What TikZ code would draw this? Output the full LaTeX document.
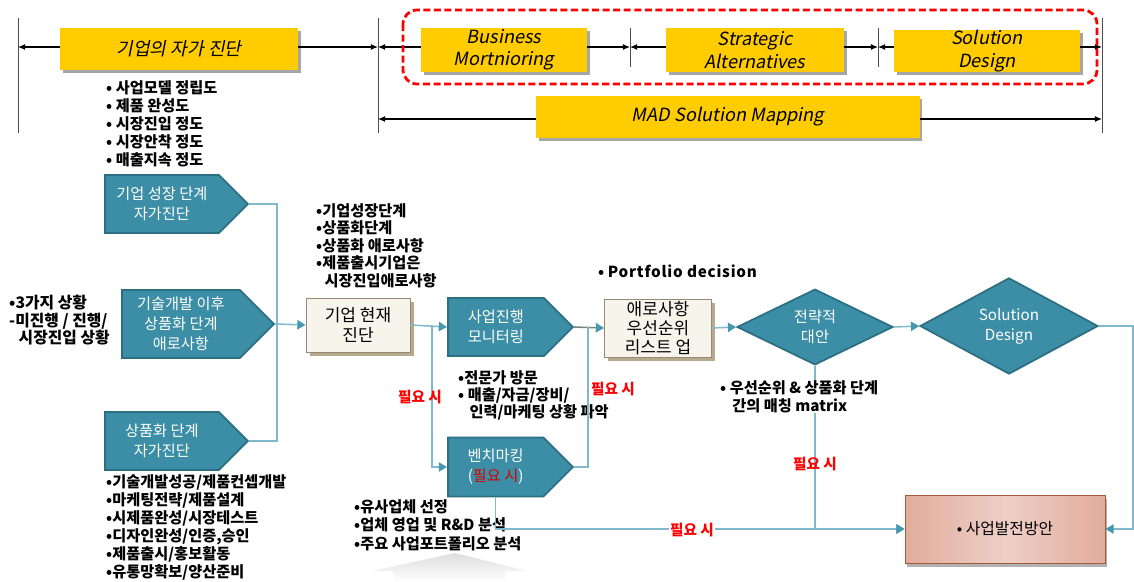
\documentclass[tikz,border=0pt]{standalone}
\usepackage{fontspec}
\setmainfont{Noto Sans CJK KR}[ItalicFont={Noto Sans CJK KR}, ItalicFeatures={FakeSlant=0.2}]
\usepackage{tikz}
\usetikzlibrary{shapes.geometric, shapes.symbols, arrows.meta, positioning, calc, shadows}
\definecolor{tealfill}{RGB}{59,142,165}
\definecolor{tealdark}{RGB}{44,111,130}
\definecolor{linkcol}{RGB}{127,185,202}
\definecolor{tipcol}{RGB}{70,152,175}
\definecolor{beigefill}{RGB}{247,244,236}
\definecolor{beigedraw}{RGB}{150,138,118}
\definecolor{beigeshad}{RGB}{183,169,140}
\definecolor{goldfill}{RGB}{255,204,0}
\definecolor{salmonedge}{RGB}{226,172,155}
\definecolor{salmonmid}{RGB}{237,207,199}
\definecolor{salmondraw}{RGB}{163,90,60}
\definecolor{needred}{RGB}{255,0,0}
\tikzset{
  gold/.style={rectangle, fill=goldfill, font=\itshape\fontsize{15.5}{19}\selectfont, align=center, inner sep=0pt,
    drop shadow={shadow xshift=2.5pt, shadow yshift=-2.5pt, fill=black, opacity=0.35}},
  dimline/.style={{Latex[length=6pt,width=5pt]}-{Latex[length=6pt,width=5pt]}, line width=0.9pt},
  tick/.style={line width=0.8pt, color=black!70},
  link/.style={line width=1.3pt, color=linkcol},
  linkarrow/.style={link, -{Triangle[length=7pt,width=8pt,color=tipcol]}},
  needtxt/.style={font=\bfseries\fontsize{12.5}{14}\selectfont, text=needred, inner sep=1pt},
  bullets/.style={align=left, anchor=north west, inner sep=0pt, font=\bfseries\fontsize{13}{15.4}\selectfont}
}
\begin{document}
\begin{tikzpicture}[x=0.03cm, y=-0.03cm,
  tealbox/.style={signal, signal to=east, fill=tealfill, draw=tealdark, line width=1.5pt, text=white,
    align=center, font=\fontsize{13}{17}\selectfont, inner sep=1pt, anchor=west},
  beigebox/.style={rectangle, fill=beigefill, draw=beigedraw, line width=0.8pt, align=center,
    font=\fontsize{14.5}{16.5}\selectfont, inner sep=0pt,
    drop shadow={shadow xshift=3pt, shadow yshift=-3pt, fill=beigeshad, opacity=1}},
  tealdia/.style={diamond, fill=tealfill, draw=tealdark, line width=1.5pt, text=white, align=center,
    font=\fontsize{13}{17}\selectfont, inner sep=0pt}
]
\useasboundingbox (0,0) rectangle (1134,582);

% top: time bars
\foreach \x in {18, 378, 1102} \draw[tick] (\x,18) -- (\x,133);
\foreach \x in {630, 878} \draw[tick] (\x,28) -- (\x,67);
\coordinate (s0) at (18,47);
\coordinate (s1) at (378,47);
\coordinate (s2) at (630,47);
\coordinate (s3) at (878,47);
\coordinate (s4) at (1102,47);
\coordinate (m0) at (378,119);
\coordinate (m1) at (1102,119);
\draw[dimline] (s0) -- (s1);
\draw[dimline] (s1) -- (s2);
\draw[dimline] (s2) -- (s3);
\draw[dimline] (s3) -- (s4);
\draw[dimline] (m0) -- (m1);

\node[gold, minimum width=7.14cm, minimum height=1.26cm] (self) at (179,49) {기업의 자가 진단};
\node[gold, minimum width=4.98cm, minimum height=1.32cm] (monitor) at (504,50) {Business\\Mortnioring};
\node[gold, minimum width=5.34cm, minimum height=1.32cm] (altern) at (755,50) {Strategic\\Alternatives};
\node[gold, minimum width=5.58cm, minimum height=1.28cm] (soldesign) at (987,51) {Solution\\Design};
\node[gold, minimum width=11.49cm, minimum height=1.26cm] (mad) at (728,117) {MAD Solution Mapping};
\draw[needred, line width=2.4pt, dash pattern=on 6pt off 3pt, rounded corners=12pt] (403,10) rectangle (1097,84);

\node[bullets] (selflist) at (106,80) {• 사업모델 정립도\\• 제품 완성도\\• 시장진입 정도\\• 시장안착 정도\\• 매출지속 정도};

% left: self diagnosis
\node[tealbox, minimum width=4.29cm, minimum height=1.74cm] (growth) at (104,204) {기업 성장 단계\\자가진단};
\node[tealbox, minimum width=4.56cm, minimum height=2.04cm] (hurdle) at (121,324) {기술개발 이후\\상품화 단계\\애로사항};
\node[tealbox, minimum width=4.29cm, minimum height=1.74cm] (commerce) at (104,441) {상품화 단계\\자가진단};
\node[bullets, font=\bfseries\fontsize{13.5}{15}\selectfont] (situation) at (9,295) {•3가지 상황\\-미진행 / 진행/\\\hspace{0.6em}시장진입 상황};
\node[bullets] (commlist) at (106,474) {•기술개발성공/제품컨셉개발\\•마케팅전략/제품설계\\•시제품완성/시장테스트\\•디자인완성/인증,승인\\•제품출시/홍보활동\\•유통망확보/양산준비};

% middle
\node[beigebox, minimum width=3.12cm, minimum height=1.62cm] (current) at (358,325) {기업 현재\\진단};
\node[bullets, font=\bfseries\fontsize{13}{15}\selectfont] (curlist) at (316,203) {•기업성장단계\\•상품화단계\\•상품화 애로사항\\•제품출시기업은\\\hspace{0.55em}시장진입애로사항};
\node[tealbox, minimum width=3.75cm, minimum height=1.74cm] (progress) at (447,327) {사업진행\\모니터링};
\node[bullets, font=\bfseries\fontsize{13}{14.8}\selectfont] (proglist) at (458,370) {•전문가 방문\\• 매출/자금/장비/\\\hspace{0.75em}인력/마케팅 상황 파악};
\node[tealbox, minimum width=3.75cm, minimum height=1.77cm] (bench) at (447,467) {벤치마킹\\(\textcolor{needred!85!black}{필요 시})};
\node[bullets, font=\bfseries\fontsize{13}{15.8}\selectfont] (benchlist) at (354,499) {•유사업체 선정\\•업체 영업 및 R\&D 분석\\•주요 사업포트폴리오 분석};
\shade[top color=black!13, bottom color=white] (372,571) -- (455,553) -- (527,571) -- (505,571) -- (505,582) -- (393,582) -- (393,571) -- cycle;

% right
\node[beigebox, minimum width=3.21cm, minimum height=1.74cm] (priority) at (658,328) {애로사항\\우선순위\\리스트 업};
\node[bullets] (portfolio) at (598,265) {• \addfontfeature{LetterSpace=5}Portfolio decision};
\node[tealdia, minimum width=4.68cm, minimum height=1.74cm] (strategy) at (815,327) {전략적\\대안};
\node[tealdia, minimum width=5.34cm, minimum height=1.68cm] (soldia) at (1009,326) {Solution\\Design};
\node[rectangle, draw=salmondraw, line width=0.8pt, left color=salmonedge, right color=salmonedge, middle color=salmonmid,
  minimum width=6cm, minimum height=2.04cm, font=\fontsize{13.5}{16}\selectfont,
  drop shadow={shadow xshift=2pt, shadow yshift=-3pt, fill=black, opacity=0.3}] (plan) at (1005,529) {• 사업발전방안};

% connectors
\coordinate (merge) at (277,324);
\coordinate (split) at (432,325);
\coordinate (join) at (588,327);
\coordinate (rside) at (1133,529);
\draw[link] (growth.east) -| (merge);
\draw[link] (commerce.east) -| (merge);
\draw[link] (hurdle.east) -- (merge);
\draw[linkarrow] (merge) -- (current.west);
\draw[linkarrow] (current.east) -- (progress.west);
\draw[linkarrow] (split) |- (bench.west);
\draw[link, color=black!50, -{Triangle[length=7pt,width=8pt,color=tipcol]}] (progress.east) -- (priority.west);
\draw[link] (bench.east) -| (join);
\draw[linkarrow] (priority.east) -- (strategy.west);
\draw[linkarrow] (strategy.east) -- (soldia.west);
\draw[linkarrow] (soldia.east) -| (rside) -- (plan.east);
\draw[linkarrow] (strategy.south) |- (plan.west);
\draw[linkarrow] (bench.south) |- (plan.west);

\node[bullets, fill=white, font=\bfseries\fontsize{13}{15.4}\selectfont] (matrix) at (720,380) {• 우선순위 \& 상품화 단계\\\hspace{0.8em}간의 매칭 matrix};
\node[needtxt] (need1) at (420,397) {필요 시};
\node[needtxt] (need2) at (613,389) {필요 시};
\node[needtxt] (need3) at (815,464) {필요 시};
\node[needtxt, fill=white] (need4) at (692,530) {필요 시};
\end{tikzpicture}
\end{document}
